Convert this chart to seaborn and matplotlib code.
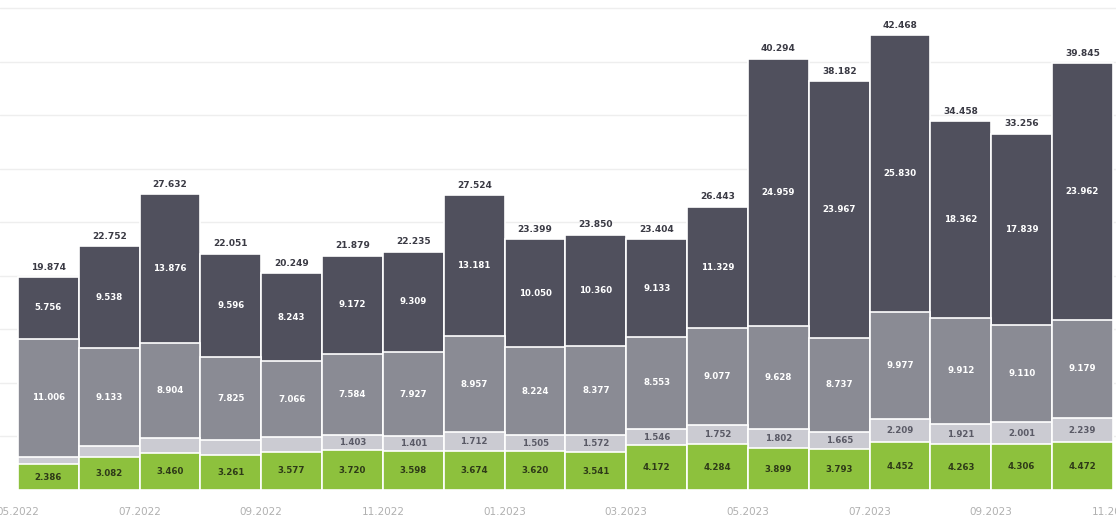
import matplotlib
matplotlib.use("Agg")
import matplotlib.pyplot as plt
import seaborn as sns
import numpy as np
import pandas as pd

months = ["05.2022", "06.2022", "07.2022", "08.2022", "09.2022", "10.2022",
          "11.2022", "12.2022", "01.2023", "02.2023", "03.2023", "04.2023",
          "05.2023", "06.2023", "07.2023", "08.2023", "09.2023", "10.2023"]
green = [2386, 3082, 3460, 3261, 3577, 3720, 3598, 3674, 3620, 3541, 4172, 4284,
         3899, 3793, 4452, 4263, 4306, 4472]
light = [726, 999, 1392, 1369, 1363, 1403, 1401, 1712, 1505, 1572, 1546, 1752,
         1802, 1665, 2209, 1921, 2001, 2239]
mid = [11006, 9133, 8904, 7825, 7066, 7584, 7927, 8957, 8224, 8377, 8553, 9077,
       9628, 8737, 9977, 9912, 9110, 9179]
dark = [5756, 9538, 13876, 9596, 8243, 9172, 9309, 13181, 10050, 10360, 9133, 11329,
        24959, 23967, 25830, 18362, 17839, 23962]
totals = [19874, 22752, 27632, 22051, 20249, 21879, 22235, 27524, 23399, 23850,
          23404, 26443, 40294, 38182, 42468, 34458, 33256, 39845]
tick_labels = ["05.2022", "07.2022", "09.2022", "11.2022", "01.2023", "03.2023",
               "05.2023", "07.2023", "09.2023", "11.2023"]

df = pd.DataFrame({"month": months, "green": green, "light": light,
                   "mid": mid, "dark": dark, "total": totals})
df["c1"] = df["green"]
df["c2"] = df["c1"] + df["light"]
df["c3"] = df["c2"] + df["mid"]
df["c4"] = df["c3"] + df["dark"]

sns.set_theme(style="white")
plt.rcParams["font.family"] = ["DejaVu Sans"]

fig = plt.figure(figsize=(11.16, 5.15), dpi=100)
ax = fig.add_axes([0, 25 / 515, 1, 490 / 515])

colors = {"c4": "#50505d", "c3": "#8a8b94", "c2": "#cbcbd2", "c1": "#8dc13d"}
for col in ["c4", "c3", "c2", "c1"]:
    sns.barplot(data=df, x="month", y=col, order=months, color=colors[col],
                saturation=1, width=1.0, edgecolor="white", linewidth=1.2,
                ax=ax, zorder=2)

ax.set_ylim(0, 45750)
ax.set_xlim(-0.795, 17.55)
ax.set_yticks(np.arange(5000, 45001, 5000))
ax.yaxis.grid(True, color="#eeeeee", linewidth=1.0, zorder=0)
ax.set_axisbelow(True)
ax.tick_params(axis="y", left=False, labelleft=False)
for s in ax.spines.values():
    s.set_visible(False)

def fmt(v):
    return f"{v:,}".replace(",", ".")

for i in range(len(months)):
    ax.text(i, df["total"][i] + 500, fmt(totals[i]), ha="center", va="bottom",
            fontsize=6.5, color="#3a3a44", fontweight="bold")
    ax.text(i, (df["c3"][i] + df["c4"][i]) / 2 + (0 if i > 11 else 0), fmt(dark[i]),
            ha="center", va="center", fontsize=6.2, color="white", fontweight="bold")
    ax.text(i, (df["c2"][i] + df["c3"][i]) / 2, fmt(mid[i]), ha="center",
            va="center", fontsize=6.2, color="white", fontweight="bold")
    if light[i] >= 1400:
        ax.text(i, (df["c1"][i] + df["c2"][i]) / 2, fmt(light[i]), ha="center",
                va="center", fontsize=6.2, color="#5a5a66", fontweight="bold")
    ax.text(i, df["c1"][i] / 2, fmt(green[i]), ha="center", va="center",
            fontsize=6.2, color="#2e3a18", fontweight="bold")

ax.set_xticks(np.arange(-0.5, 18, 2))
ax.set_xticklabels(tick_labels, fontsize=7.5, color="#b0b0b0")
ax.tick_params(axis="x", bottom=False, pad=6)
ax.set_xlabel("")
ax.set_ylabel("")

fig.savefig("out.png", dpi=100)
